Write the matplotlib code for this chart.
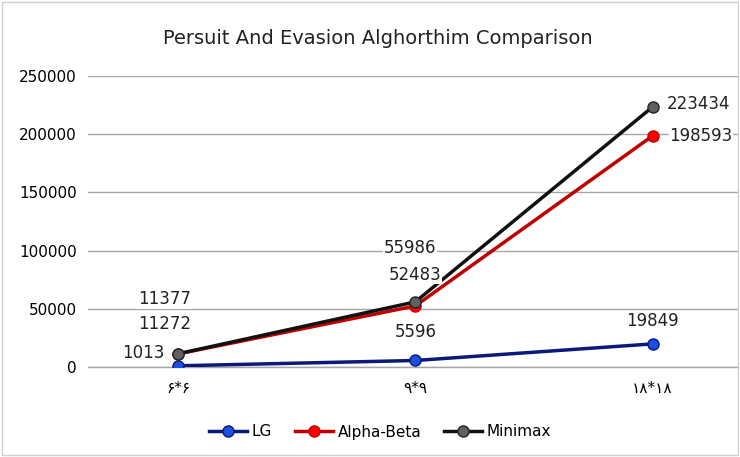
import numpy as np
import matplotlib.pyplot as plt

categories = ["\u06f6*\u06f6", "\u06f9*\u06f9", "\u06f1\u06f8*\u06f1\u06f8"]
lg = [1013, 5596, 19849]
alpha_beta = [11272, 52483, 198593]
minimax = [11377, 55986, 223434]

fig = plt.figure(figsize=(7.4, 4.57), dpi=100)
ax = fig.add_axes([88 / 740, 1 - 367 / 457, (738 - 88) / 740, 291 / 457])

x = np.arange(len(categories))
ax.plot(x, lg, color="#0a1a7a", lw=2.5, marker="o", ms=8,
        mfc="#1a4fe0", mec="#0a1a7a", label="LG", zorder=3)
ax.plot(x, alpha_beta, color="#c00000", lw=2.5, marker="o", ms=8,
        mfc="#ff0000", mec="#c00000", label="Alpha-Beta", zorder=4)
ax.plot(x, minimax, color="#111111", lw=2.5, marker="o", ms=8,
        mfc="#606060", mec="#222222", label="Minimax", zorder=5)

ax.set_xlim(-0.38, 2.36)
ax.set_ylim(0, 250000)
ax.set_yticks(np.arange(0, 250001, 50000))
ax.set_xticks(x)
ax.set_xticklabels(categories, fontsize=11, family=["DejaVu Sans"])
ax.tick_params(axis="both", length=0, pad=10, labelsize=11)
ax.tick_params(axis="y", pad=8)
ax.yaxis.grid(True, color="#a6a6a6", lw=1)
ax.axhline(0, color="#a6a6a6", lw=1, clip_on=False, zorder=0)
ax.set_axisbelow(True)
for s in ax.spines.values():
    s.set_visible(False)

kw = dict(fontsize=12, color="#222222", zorder=6,
          bbox=dict(fc="white", ec="none", pad=0.5))
# 6*6 labels
ax.annotate(str(lg[0]), (x[0], lg[0]), xytext=(-10, 3), textcoords="offset points",
            ha="right", va="bottom", **kw)
ax.annotate(str(alpha_beta[0]), (x[0], alpha_beta[0]), xytext=(-10, 15), textcoords="offset points",
            ha="center", va="bottom", **kw)
ax.annotate(str(minimax[0]), (x[0], minimax[0]), xytext=(-10, 33), textcoords="offset points",
            ha="center", va="bottom", **kw)
# 9*9 labels
ax.annotate(str(lg[1]), (x[1], lg[1]), xytext=(0, 14), textcoords="offset points",
            ha="center", va="bottom", **kw)
ax.annotate(str(alpha_beta[1]), (x[1], alpha_beta[1]), xytext=(0, 16), textcoords="offset points",
            ha="center", va="bottom", **kw)
ax.annotate(str(minimax[1]), (x[1], minimax[1]), xytext=(-4, 32), textcoords="offset points",
            ha="center", va="bottom", **kw)
# 18*18 labels
ax.annotate(str(lg[2]), (x[2], lg[2]), xytext=(0, 10), textcoords="offset points",
            ha="center", va="bottom", **kw)
ax.annotate(str(alpha_beta[2]), (x[2], alpha_beta[2]), xytext=(12, 0), textcoords="offset points",
            ha="left", va="center", **kw)
ax.annotate(str(minimax[2]), (x[2], minimax[2]), xytext=(10, 2), textcoords="offset points",
            ha="left", va="center", **kw)

fig.text(378 / 740, 1 - 38 / 457, "Persuit And Evasion Alghorthim Comparison",
         ha="center", va="center", fontsize=14, color="#222222")

fig.legend(loc="center", bbox_to_anchor=(380 / 740, 1 - 432 / 457), ncol=3,
           frameon=False, fontsize=11, handlelength=2.5, columnspacing=1.5,
           handletextpad=0.3)

fig.patches.append(plt.Rectangle((0.003, 0.004), 0.994, 0.992, transform=fig.transFigure,
                                 fill=False, ec="#d0d0d0", lw=1))

fig.savefig("out.png", dpi=100)
